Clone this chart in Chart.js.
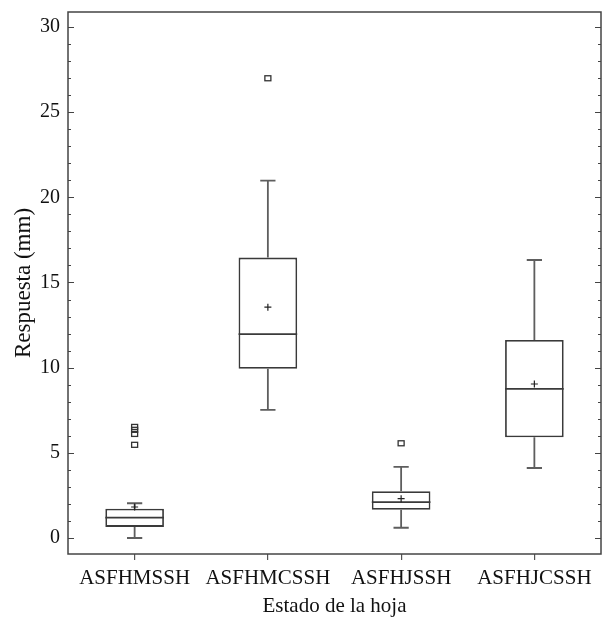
<!DOCTYPE html>
<html>
<head>
<meta charset="utf-8">
<script src="https://cdn.jsdelivr.net/npm/chart.js@4/dist/chart.umd.min.js"></script>
<style>
  html, body { margin: 0; padding: 0; background: #fff; }
  #wrap { width: 602px; height: 619px; }
</style>
</head>
<body>
<div id="wrap"><canvas id="boxChart"></canvas></div>
<script>
// Datos
const categorias = ['ASFHMSSH', 'ASFHMCSSH', 'ASFHJSSH', 'ASFHJCSSH'];
const bigoteInf = [0.0, 7.52, 0.6, 4.11];
const cuartil1 = [0.65, 9.94, 1.66, 5.91];
const mediana = [1.19, 11.97, 2.11, 8.76];
const cuartil3 = [1.72, 16.46, 2.74, 11.63];
const bigoteSup = [2.04, 20.98, 4.17, 16.32];
const media = [1.82, 13.55, 2.31, 9.04];
const atipicos = [[5.47, 6.11, 6.35, 6.52], [26.99], [5.56], []];
const ticksY = [0, 5, 10, 15, 20, 25, 30];

const colorTexto = '#111';
const colorCaja = '#3a3a3a';
const colorBigote = '#5e5e5e';
const fuente = 'Liberation Serif, Times New Roman, serif';

// Dibuja bigotes, mediana, media y atípicos con las escalas del gráfico
const boxPlugin = {
    id: 'boxPlugin',
    afterDatasetsDraw(chart) {
        const ctx = chart.ctx;
        const y = chart.scales.y;
        const meta = chart.getDatasetMeta(0);
        ctx.save();
        meta.data.forEach((bar, i) => {
            const cx = bar.x;
            const half = bar.width / 2;
            const cap = bar.width * 0.13;
            // bigotes
            ctx.strokeStyle = colorBigote;
            ctx.lineWidth = 1.8;
            ctx.beginPath();
            ctx.moveTo(cx, y.getPixelForValue(cuartil3[i]));
            ctx.lineTo(cx, y.getPixelForValue(bigoteSup[i]));
            ctx.moveTo(cx - cap, y.getPixelForValue(bigoteSup[i]));
            ctx.lineTo(cx + cap, y.getPixelForValue(bigoteSup[i]));
            ctx.moveTo(cx, y.getPixelForValue(cuartil1[i]));
            ctx.lineTo(cx, y.getPixelForValue(bigoteInf[i]));
            ctx.moveTo(cx - cap, y.getPixelForValue(bigoteInf[i]));
            ctx.lineTo(cx + cap, y.getPixelForValue(bigoteInf[i]));
            ctx.stroke();
            // mediana
            ctx.strokeStyle = colorCaja;
            ctx.beginPath();
            ctx.moveTo(cx - half, y.getPixelForValue(mediana[i]));
            ctx.lineTo(cx + half, y.getPixelForValue(mediana[i]));
            ctx.stroke();
            // media (+)
            const my = y.getPixelForValue(media[i]);
            ctx.strokeStyle = '#222';
            ctx.lineWidth = 1.2;
            ctx.beginPath();
            ctx.moveTo(cx - 3.5, my);
            ctx.lineTo(cx + 3.5, my);
            ctx.moveTo(cx, my - 3.5);
            ctx.lineTo(cx, my + 3.5);
            ctx.stroke();
            // atípicos
            ctx.strokeStyle = '#333';
            ctx.lineWidth = 1.3;
            atipicos[i].forEach(v => {
                const oy = y.getPixelForValue(v);
                ctx.strokeRect(cx - 3, oy - 2.5, 6, 5);
            });
        });
        ctx.restore();
    }
};

// Marco y marcas interiores del eje Y (izquierda y derecha)
const marcoPlugin = {
    id: 'marcoPlugin',
    afterDraw(chart) {
        const ctx = chart.ctx;
        const a = chart.chartArea;
        const y = chart.scales.y;
        ctx.save();
        ctx.strokeStyle = '#444';
        ctx.lineWidth = 1.5;
        ctx.strokeRect(a.left, a.top, a.right - a.left, a.bottom - a.top);
        ctx.lineWidth = 1.2;
        ctx.beginPath();
        for (let v = 0; v <= 30; v++) {
            const py = Math.round(y.getPixelForValue(v)) + 0.5;
            const len = v % 5 === 0 ? 6 : 3;
            ctx.moveTo(a.left, py);
            ctx.lineTo(a.left + len, py);
            ctx.moveTo(a.right, py);
            ctx.lineTo(a.right - len, py);
        }
        ctx.stroke();
        ctx.restore();
    }
};

const ctx = document.getElementById('boxChart').getContext('2d');
const boxChart = new Chart(ctx, {
    type: 'bar',
    data: {
        labels: categorias,
        datasets: [{
            label: 'Respuesta',
            data: cuartil1.map((q, i) => [q, cuartil3[i]]),
            backgroundColor: '#fff',
            borderColor: colorCaja,
            borderWidth: 1.8,
            borderSkipped: false,
            barPercentage: 0.44,
            categoryPercentage: 1
        }]
    },
    options: {
        responsive: true,
        maintainAspectRatio: false,
        animation: false,
        layout: { padding: { left: 8, right: 1, top: 12, bottom: 0 } },
        plugins: {
            legend: { display: false },
            tooltip: { enabled: false }
        },
        scales: {
            x: {
                offset: true,
                afterFit(scale) { scale.height = 65; },
                grid: {
                    offset: false,
                    drawOnChartArea: false,
                    drawTicks: true,
                    tickLength: 6,
                    color: '#555',
                    lineWidth: 1.2
                },
                border: { display: false },
                ticks: {
                    color: colorTexto,
                    padding: 8,
                    maxRotation: 0,
                    font: { family: fuente, size: 21, lineHeight: 1 }
                },
                title: {
                    display: true,
                    text: 'Estado de la hoja',
                    color: colorTexto,
                    padding: { top: 7, bottom: 2 },
                    font: { family: fuente, size: 21, lineHeight: 1 }
                }
            },
            y: {
                min: -0.94,
                max: 30.88,
                afterFit(scale) {
                    scale.width = 60;
                    scale.paddingTop = 0;
                    scale.paddingBottom = 0;
                },
                afterBuildTicks(scale) {
                    scale.ticks = ticksY.map(v => ({ value: v }));
                },
                grid: { display: false, drawTicks: false },
                border: { display: false },
                ticks: {
                    color: colorTexto,
                    padding: 8,
                    font: { family: fuente, size: 20, lineHeight: 1 }
                },
                title: {
                    display: true,
                    text: 'Respuesta (mm)',
                    color: colorTexto,
                    padding: { top: 4, bottom: 4 },
                    font: { family: fuente, size: 23, lineHeight: 1 }
                }
            }
        }
    },
    plugins: [boxPlugin, marcoPlugin]
});
</script>
</body>
</html>
